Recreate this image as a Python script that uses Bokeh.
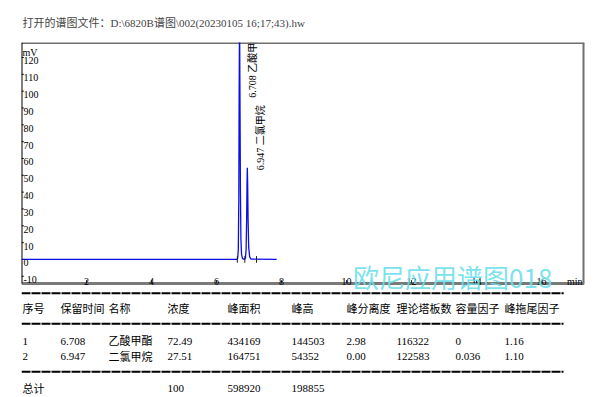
from math import pi
from bokeh.plotting import figure
from bokeh.models import Range1d, Label, ColumnDataSource
from bokeh.layouts import column
from bokeh.core.properties import value
from bokeh.embed import file_html
from bokeh.resources import INLINE

# ---------------- data ----------------
title_text = r"打开的谱图文件：D:\6820B谱图\002(20230105 16;17;43).hw"

# chromatogram trace (min, mV)
trace_t = [0.00, 6.62, 6.65, 6.67, 6.685, 6.695, 6.708, 6.72, 6.735, 6.75, 6.77, 6.80,
           6.86, 6.89, 6.91, 6.925, 6.937, 6.947, 6.958, 6.97, 6.99, 7.02, 7.06, 7.85]
trace_mv = [0.0, 0.0, 0.6, 6.0, 35.0, 95.0, 144.5, 100.0, 40.0, 12.0, 3.0, 0.5,
            0.0, 0.8, 6.0, 22.0, 44.0, 54.4, 44.0, 24.0, 7.0, 1.5, 0.2, 0.0]

# peak start / valley / end markers (min)
marker_t = [6.64, 6.87, 7.23]

# peak table
peak_no = ["1", "2"]
peak_rt = [6.708, 6.947]
peak_name = ["乙酸甲酯", "二氯甲烷"]
peak_conc = [72.49, 27.51]
peak_area = [434169, 164751]
peak_height = [144503, 54352]
peak_resolution = ["2.98", "0.00"]
peak_plates = [116322, 122583]
peak_capacity = ["0", "0.036"]
peak_tailing = ["1.16", "1.10"]
label_level = [96.0, 53.0]  # mV where peak labels start

headers = ["序号", "保留时间", "名称", "浓度", "峰面积", "峰高", "峰分离度", "理论塔板数", "容量因子", "峰拖尾因子"]
total_label = "总计"

x_ticks = [2, 4, 6, 8, 10, 12, 14, 16]
y_ticks = [-10, 0, 10, 20, 30, 40, 50, 60, 70, 80, 90, 100, 110, 120]

watermark = "欧尼应用谱图018"

FONT = value("Liberation Serif, Noto Sans CJK SC")
SERIF = value("Liberation Serif")

# ---------------- chart ----------------
X0, X1 = 0.0, 17.32
Y_AX, Y1 = -14.3, 128.9      # drawn axis box (bottom axis line / top)
Y_LOW = -21.43               # frame continues a little below the axis line
RULE_Y, RULE_X1 = -20.06, 16.68   # first table rule, drawn in the chart canvas

p = figure(width=601, height=295, output_backend="svg", toolbar_location=None,
           x_range=Range1d(X0, X1), y_range=Range1d(Y_LOW, Y1),
           x_axis_type=None, y_axis_type=None,
           min_border_left=21, min_border_right=17, min_border_top=42, min_border_bottom=0,
           title=title_text)
p.title.text_font_size = "11px"
p.title.text_font_style = "normal"
p.title.text_font = "Liberation Serif, Noto Sans CJK SC"
p.title.offset = 1
p.title.standoff = 27
p.grid.visible = False
p.outline_line_color = None
p.background_fill_color = "white"
p.border_fill_color = "white"

# box: grey top / right, thick grey bottom, black left
p.segment(x0=[X0], y0=[Y1], x1=[X1], y1=[Y1], line_color="#707070", line_width=3)
p.segment(x0=[X1], y0=[Y_AX], x1=[X1], y1=[Y1], line_color="#707070", line_width=4)
p.segment(x0=[X0], y0=[Y_AX], x1=[X1], y1=[Y_AX], line_color="#7a7a7a", line_width=3)
p.segment(x0=[X0], y0=[Y_AX], x1=[X0], y1=[Y1], line_color="black", line_width=2)
# small inner ticks
p.segment(x0=x_ticks, y0=[Y_AX] * len(x_ticks), x1=x_ticks, y1=[Y_AX + 2.0] * len(x_ticks),
          line_color="#222222", line_width=1)
p.segment(x0=[X0] * len(y_ticks), y0=y_ticks, x1=[X0 + 0.07] * len(y_ticks), y1=y_ticks,
          line_color="black", line_width=1)
# first table rule
p.line(x=[X0, RULE_X1], y=[RULE_Y, RULE_Y], line_color="black", line_width=2, line_dash="9 1")

# trace
p.line(trace_t, trace_mv, line_color="#0c0ce8", line_width=1.3)
# peak markers
p.segment(x0=marker_t, y0=[-2.0] * len(marker_t), x1=marker_t, y1=[2.0] * len(marker_t),
          line_color="#222222", line_width=1)

# peak labels
lbl_src = ColumnDataSource(dict(
    x=peak_rt, y=label_level,
    t=[f"{rt:.3f} {nm}" for rt, nm in zip(peak_rt, peak_name)]))
p.text(x="x", y="y", text="t", source=lbl_src, angle=pi / 2, x_offset=13,
       text_align="left", text_baseline="middle", text_font=FONT,
       text_font_size="10px", text_color="black")

# y tick labels inside frame
p.text(x=[X0] * len(y_ticks), y=y_ticks, text=[str(v) for v in y_ticks], x_offset=2, y_offset=0,
       text_align="left", text_baseline="top", text_font=SERIF,
       text_font_size="10px", text_color="black")
# x tick labels inside frame
p.text(x=x_ticks, y=[Y_AX] * len(x_ticks), text=[str(v) for v in x_ticks], y_offset=-2,
       text_align="center", text_baseline="alphabetic", text_font=SERIF,
       text_font_size="10px", text_color="black")
# axis unit labels
p.text(x=[X0], y=[Y1], text=["mV"], x_offset=1, y_offset=4, text_align="left",
       text_baseline="top", text_font=SERIF, text_font_size="10px", text_color="black")
p.text(x=[X1], y=[Y_AX], text=["min"], x_offset=-2, y_offset=-2, text_align="right",
       text_baseline="alphabetic", text_font=SERIF, text_font_size="10px", text_color="black")

# watermark
p.add_layout(Label(x=10.2, y=-10.2, text=watermark, text_font="Noto Sans CJK SC",
                   text_font_size="26px", text_color="#6adfea", text_alpha=0.9,
                   text_align="left", text_baseline="middle"))

# ---------------- table ----------------
# x data == page pixel (frame spans 21..584 like the chart so column alignment is a no-op)
t = figure(width=601, height=102, output_backend="svg", toolbar_location=None,
           x_range=Range1d(21, 584), y_range=Range1d(102, 0),
           x_axis_type=None, y_axis_type=None,
           min_border_left=21, min_border_right=17, min_border_top=0, min_border_bottom=0)
t.grid.visible = False
t.outline_line_color = None
t.background_fill_color = "white"
t.border_fill_color = "white"

col_x = [22, 60, 108, 167, 227, 291, 346, 396, 455, 504]
rule_y = [28.3, 76.3]
t.multi_line(xs=[[21, 563]] * len(rule_y), ys=[[y, y] for y in rule_y],
             line_color="black", line_width=2, line_dash="9 1")

rows = [headers]
for i in range(len(peak_no)):
    rows.append([peak_no[i], f"{peak_rt[i]:.3f}", peak_name[i], f"{peak_conc[i]:.2f}",
                 str(peak_area[i]), str(peak_height[i]), peak_resolution[i],
                 str(peak_plates[i]), peak_capacity[i], peak_tailing[i]])
total_conc = sum(peak_conc)
rows.append([total_label, "", "", f"{round(total_conc, 2):g}",
             str(sum(peak_area)), str(sum(peak_height)), "", "", "", ""])
row_y = [13.3, 45.7, 61.0, 93.3]

tx, ty, tt = [], [], []
for r, yy in zip(rows, row_y):
    for c, xx in zip(r, col_x):
        if c:
            tx.append(xx); ty.append(yy); tt.append(c)
t.text(x=tx, y=ty, text=tt, text_align="left", text_baseline="middle",
       text_font=FONT, text_font_size="11px", text_color="black")

layout = column(p, t, spacing=0)
open("out.html", "w").write(file_html(layout, INLINE))
